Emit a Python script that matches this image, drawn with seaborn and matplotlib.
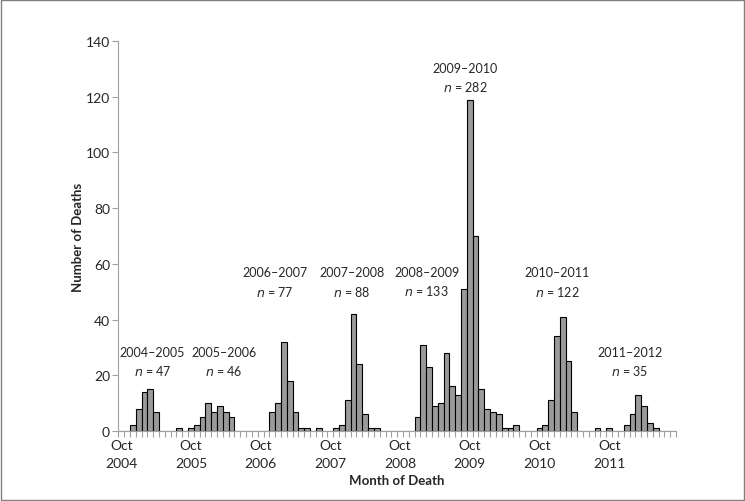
import pandas as pd
import seaborn as sns
import matplotlib.pyplot as plt
from matplotlib.ticker import FixedLocator

# monthly deaths, Oct 2004 .. Sep 2012 (one row per Oct-Sep year)
months = pd.period_range('2004-10', periods=96, freq='M').strftime('%Y-%m')
deaths = [
    0, 0, 2, 8, 14, 15, 7, 0, 0, 0, 1, 0,
    1, 2, 5, 10, 7, 9, 7, 5, 0, 0, 0, 0,
    0, 0, 7, 10, 32, 18, 7, 1, 1, 0, 1, 0,
    0, 1, 2, 11, 42, 24, 6, 1, 1, 0, 0, 0,
    0, 0, 0, 5, 31, 23, 9, 10, 28, 16, 13, 51,
    119, 70, 15, 8, 7, 6, 1, 1, 2, 0, 0, 0,
    1, 2, 11, 34, 41, 25, 7, 0, 0, 0, 1, 0,
    1, 0, 0, 2, 6, 13, 9, 3, 1, 0, 0, 0,
]
seasons = ['2004–2005', '2005–2006', '2006–2007', '2007–2008',
           '2008–2009', '2009–2010', '2010–2011', '2011–2012']
season_n = [47, 46, 77, 88, 133, 282, 122, 35]
tick_years = ['2004', '2005', '2006', '2007', '2008', '2009', '2010', '2011']

# where each season label sits (category index, y value)
label_pos = [(5.4, 25), (17.7, 25), (26.5, 53.5), (39.7, 53.5),
             (52.6, 53.7), (59.2, 127), (75.1, 53.5), (87.5, 25)]

df = pd.DataFrame({'month': months, 'deaths': deaths})

sns.set_style('white')
plt.rcParams['font.family'] = ['Lato', 'DejaVu Sans']

fig = plt.figure(figsize=(7.45, 5.02), dpi=100)
ax = fig.add_axes([0.1588, 0.1394, 0.7486, 0.7769])

sns.barplot(data=df, x='month', y='deaths', color='#9a9a9a', saturation=1,
            edgecolor='black', linewidth=0.8, width=1, ax=ax)

ax.set_xlim(-0.5, 95.5)
ax.set_ylim(0, 140)
ax.set_yticks(range(0, 141, 20))
ax.set_xticks(range(0, 96, 12))
ax.set_xticklabels(['Oct\n' + y for y in tick_years], fontsize=10, linespacing=1.55)
ax.xaxis.set_minor_locator(FixedLocator([i - 0.5 for i in range(97)]))
ax.tick_params(axis='x', which='major', length=0, pad=6)
ax.tick_params(axis='x', which='minor', length=4, width=0.8, color='#a0a0a0',
               direction='out', bottom=True)
ax.tick_params(axis='y', length=4, width=0.8, color='#a0a0a0', direction='out',
               left=True, labelsize=10, pad=2)

for s in ['top', 'right']:
    ax.spines[s].set_visible(False)
for s in ['left', 'bottom']:
    ax.spines[s].set_color('#a0a0a0')
    ax.spines[s].set_linewidth(0.8)

ax.set_xlabel('Month of Death', fontsize=9.5, fontweight='bold', labelpad=4)
ax.set_ylabel('Number of Deaths', fontsize=9.5, fontweight='bold', labelpad=1)

for name, n, (x, y) in zip(seasons, season_n, label_pos):
    ax.text(x, y, name + '\n$\\it{n}$ = ' + str(n), ha='center', va='center',
            fontsize=9, linespacing=1.45)

fig.add_artist(plt.Rectangle((0.002, 0.002), 0.996, 0.996, transform=fig.transFigure,
                             fill=False, edgecolor='#808080', linewidth=1))

fig.savefig('out.png', dpi=100)
